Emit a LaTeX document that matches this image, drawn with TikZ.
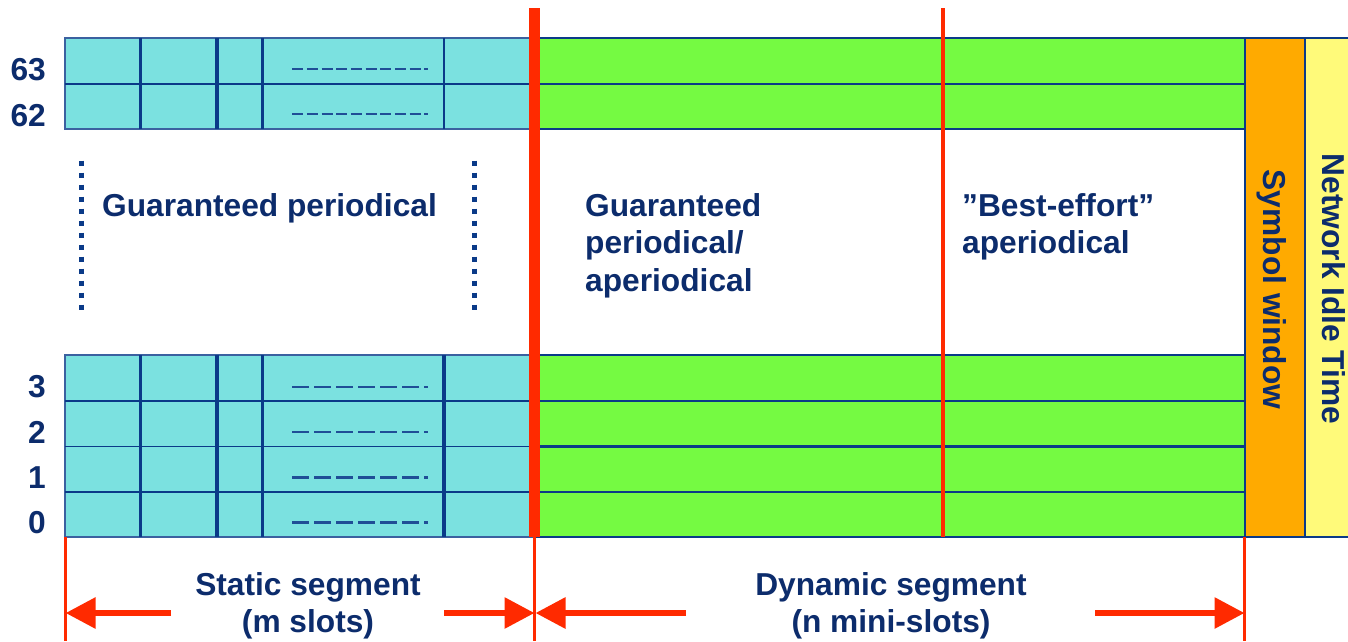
\documentclass[tikz,border=0pt]{standalone}
\usepackage{fontspec}
\setmainfont{Liberation Sans}
\usetikzlibrary{arrows.meta}
\definecolor{cyanfill}{HTML}{7BE1E0}
\definecolor{greenfill}{HTML}{75FA42}
\definecolor{orangefill}{HTML}{FFAA00}
\definecolor{yellowfill}{HTML}{FFFA7A}
\definecolor{redline}{HTML}{FF2A00}
\definecolor{navy}{HTML}{0C2C6C}
\definecolor{gridblue}{HTML}{0A3A88}
\definecolor{dashblue}{HTML}{1F4E96}
\begin{document}
\begin{tikzpicture}[x=1pt,y=-1pt,
  lbl/.style={font=\bfseries\fontsize{31.7}{37.5}\selectfont, text=navy, inner sep=0pt},
  rowline/.style={draw=gridblue, line width=2pt},
  slotthick/.style={draw=gridblue, line width=3.5pt},
  slotthin/.style={draw=gridblue, line width=2pt},
  redthin/.style={draw=redline, line width=2.8pt},
  segarrow/.style={draw=redline, line width=6pt, -{Triangle[length=30pt,width=30pt]}},
  dotline/.style={draw=gridblue, line width=5pt, dash pattern=on 5pt off 7pt},
  topdash/.style={draw=dashblue, line width=2pt, dash pattern=on 11pt off 3.67pt},
  botdash/.style={draw=dashblue, line width=2.3pt, dash pattern=on 16.5pt off 5.5pt}]
\useasboundingbox (0,0) rectangle (1348,641);
\fill[white] (0,0) rectangle (1348,641);

% static segment blocks
\filldraw[fill=cyanfill, draw=gridblue!80, line width=1.5pt] (65,38) rectangle (534,129);
\filldraw[fill=cyanfill, draw=gridblue!80, line width=1.5pt] (65,355) rectangle (534,537);
\draw[rowline, line width=1.5pt] (65,84) -- (534,84);
\foreach \y in {401,446.5,492} \draw[rowline, line width=1.5pt] (65,\y) -- (534,\y);
\foreach \x in {140.5,217,262.5} {
  \draw[slotthick] (\x,38) -- (\x,129);
  \draw[slotthick] (\x,355) -- (\x,537);
}
\draw[slotthin] (444,38) -- (444,129);
\draw[slotthick] (444,355) -- (444,537);
% dashed fillers
\foreach \y in {69,114} \draw[topdash] (292.3,\y) -- (428.3,\y);
\foreach \y in {386.7,432,477.5,522.5} \draw[botdash] (292.3,\y) -- (428.3,\y);

% dynamic segment blocks
\fill[greenfill] (534,38) rectangle (1245,129);
\fill[greenfill] (534,355) rectangle (1245,537);
\foreach \y in {38,84,129} \draw[rowline, line width=2.5pt] (534,\y) -- (1245,\y);
\foreach \y in {355,401,446.5,492,537} \draw[rowline, line width=2.5pt] (534,\y) -- (1245,\y);

% symbol window and idle time
\filldraw[fill=orangefill, draw=gridblue, line width=2pt] (1245,38) rectangle (1305,537);
\filldraw[fill=yellowfill, draw=gridblue, line width=2pt] (1305,38) rectangle (1350,537);

% red boundaries
\draw[draw=redline, line width=11.6pt] (534.5,8.3) -- (534.5,537);
\draw[draw=redline, line width=4pt] (943,8.3) -- (943,537);
\draw[redthin] (65.6,537) -- (65.6,641);
\draw[redthin] (534.5,537) -- (534.5,641);
\draw[redthin] (1244.5,537) -- (1244.5,641);

% dotted ellipsis lines
\draw[dotline] (81,160.7) -- (81,310);
\draw[dotline] (474.3,160.7) -- (474.3,310);

% row numbers
\node[lbl, anchor=base east] (r63) at (46,80.5) {63};
\node[lbl, anchor=base east] (r62) at (46,126.5) {62};
\node[lbl, anchor=base east] (r3) at (46,397.5) {3};
\node[lbl, anchor=base east] (r2) at (46,443) {2};
\node[lbl, anchor=base east] (r1) at (46,488.5) {1};
\node[lbl, anchor=base east] (r0) at (46,533) {0};

% region labels
\node[lbl, anchor=base] (gp) at (269.5,216) {Guaranteed periodical};
\node[lbl, anchor=base west] (gpa1) at (585,216) {Guaranteed};
\node[lbl, anchor=base west] (gpa2) at (585,253.5) {periodical/};
\node[lbl, anchor=base west] (gpa3) at (585,291) {aperiodical};
\node[lbl, anchor=base west] (be1) at (962,216) {”Best-effort”};
\node[lbl, anchor=base west] (be2) at (962,253.5) {aperiodical};
\node[lbl, anchor=base, rotate=-90] (sym) at (1263.5,289.5) {Symbol window};
\node[lbl, anchor=base, rotate=-90] (nit) at (1322.5,289) {Network Idle Time};

% segment labels
\node[lbl, anchor=base] (st1) at (308,595) {Static segment};
\node[lbl, anchor=base] (st2) at (308,632) {(m slots)};
\node[lbl, anchor=base] (dy1) at (891,595) {Dynamic segment};
\node[lbl, anchor=base] (dy2) at (891,632) {(n mini-slots)};

% arrows
\coordinate (sA) at (171,613);
\coordinate (sAt) at (65.6,613);
\coordinate (sB) at (444,613);
\coordinate (sBt) at (534.5,613);
\coordinate (dA) at (686,613);
\coordinate (dAt) at (535.5,613);
\coordinate (dB) at (1095,613);
\coordinate (dBt) at (1244.5,613);
\draw[segarrow] (sA) -- (sAt);
\draw[segarrow] (sB) -- (sBt);
\draw[segarrow] (dA) -- (dAt);
\draw[segarrow] (dB) -- (dBt);
\end{tikzpicture}
\end{document}
